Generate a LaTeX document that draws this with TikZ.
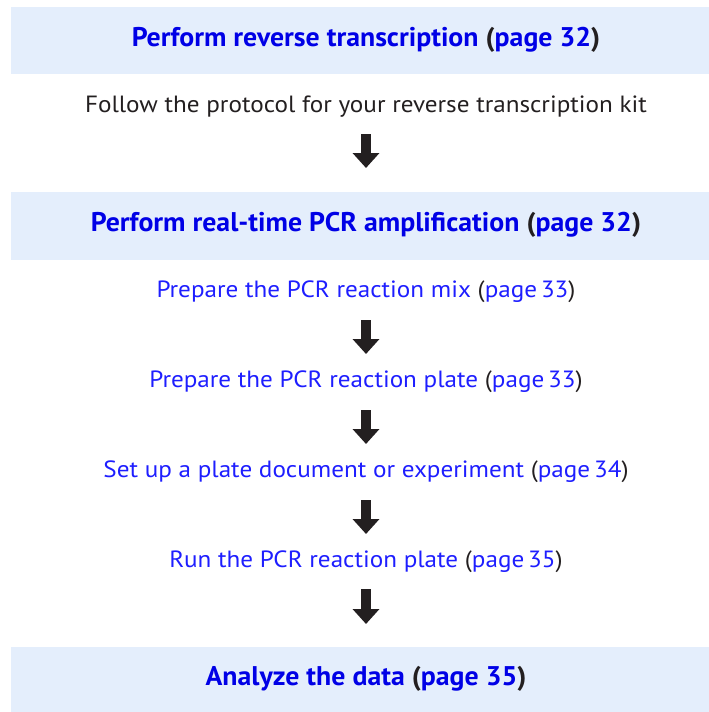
\documentclass[tikz,border=0pt]{standalone}
\usepackage{fontspec}
\setmainfont{PT Sans}[FakeStretch=1.07]
\newfontfamily\headfont{PT Sans}[FakeStretch=1.03,BoldFont={PT Sans Bold}]
\usetikzlibrary{arrows.meta,positioning}
\definecolor{ink}{HTML}{231F20}
\definecolor{stepblue}{HTML}{1E1EFF}
\definecolor{headblue}{HTML}{0000E6}
\definecolor{bandfill}{HTML}{E4EEFC}

\begin{document}
\begin{tikzpicture}[x=1pt,y=-1pt,font=\fontsize{23.5}{28}\selectfont]
  \useasboundingbox (0,0) rectangle (709,712);
  \tikzset{
    band/.style={fill=bandfill,inner sep=0pt,minimum width=698pt,anchor=north west},
    headtext/.style={font=\headfont\fontsize{27}{32}\selectfont\bfseries,text=headblue,anchor=base,inner sep=0pt},
    steptext/.style={text=stepblue,anchor=base,inner sep=0pt},
    plaintext/.style={text=ink,anchor=base,inner sep=0pt},
    bigarrow/.style={draw=ink,line width=10pt,-{Triangle[width=26pt,length=15pt]}}
  }
  \newcommand{\pagecite}[1]{{\color{ink}(}#1{\color{ink})}}
  \def\midx{366}

  % Shaded section bands.
  \node[band,minimum height=67pt] (rtband) at (11,7) {};
  \node[band,minimum height=68pt] (pcrband) at (11,192) {};
  \node[band,minimum height=65pt] (databand) at (11,647) {};

  \node[headtext] (rthead) at (\midx,46)
    {Perform reverse transcription \pagecite{page 32}};
  \node[plaintext] (follow) at (\midx,112)
    {Follow the protocol for your reverse transcription kit};
  \node[headtext] (pcrhead) at (\midx,231)
    {Perform real-time PCR amplification \pagecite{page 32}};
  \node[steptext] (mix) at (\midx,297)
    {Prepare the PCR reaction mix \pagecite{page\,33}};
  \node[steptext] (plate) at (\midx,387)
    {Prepare the PCR reaction plate \pagecite{page\,33}};
  \node[steptext] (setup) at (\midx,477)
    {Set up a plate document or experiment \pagecite{page\,34}};
  \node[steptext] (run) at (\midx,567)
    {Run the PCR reaction plate \pagecite{page\,35}};
  \node[headtext] (datahead) at (\midx,685)
    {Analyze the data \pagecite{page 35}};

  % Block arrows between the steps.
  \draw[bigarrow,shorten <=22pt,shorten >=24pt] (follow.base) -- (pcrband.north-|follow.base);
  \draw[bigarrow,shorten <=23pt,shorten >=33pt] (mix.base) -- (plate.base);
  \draw[bigarrow,shorten <=23pt,shorten >=33pt] (plate.base) -- (setup.base);
  \draw[bigarrow,shorten <=23pt,shorten >=33pt] (setup.base) -- (run.base);
  \draw[bigarrow,shorten <=22pt,shorten >=23pt] (run.base) -- (databand.north-|run.base);
\end{tikzpicture}
\end{document}
